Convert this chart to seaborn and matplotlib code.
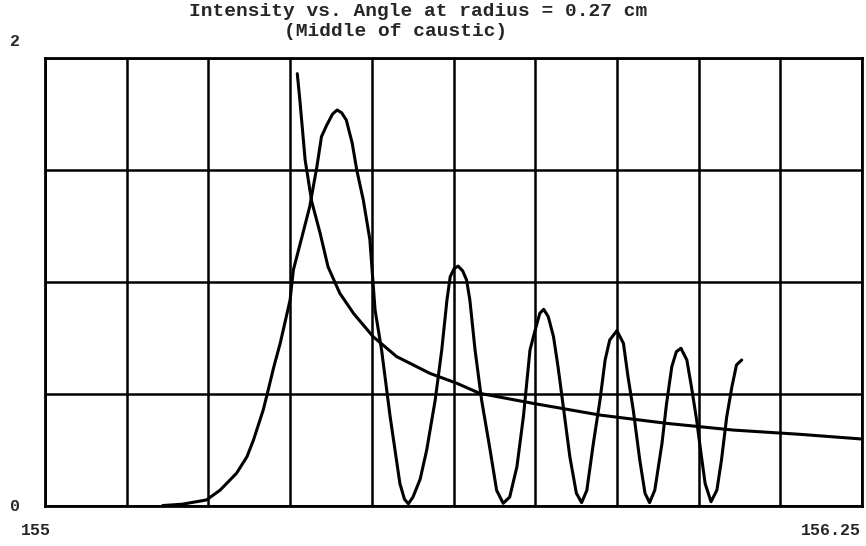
import matplotlib
matplotlib.use("Agg")
import numpy as np
import pandas as pd
import matplotlib.pyplot as plt
import seaborn as sns

# ---------------------------------------------------------------------------
# Data
# ---------------------------------------------------------------------------

# oscillating (Airy-like) intensity
wave_angle = [
    155.180, 155.210, 155.247, 155.268, 155.293, 155.309, 155.319, 155.334,
    155.340, 155.350, 155.360, 155.375, 155.380, 155.393, 155.405, 155.416,
    155.423, 155.431, 155.440, 155.447, 155.454, 155.461, 155.470, 155.477,
    155.487, 155.497, 155.505, 155.515, 155.528, 155.543, 155.550, 155.556,
    155.563, 155.574, 155.584, 155.597, 155.607, 155.615, 155.620, 155.626,
    155.632, 155.639, 155.645, 155.650, 155.658, 155.668, 155.681, 155.691,
    155.701, 155.711, 155.722, 155.732, 155.742, 155.750, 155.757, 155.763,
    155.770, 155.778, 155.785, 155.793, 155.803, 155.813, 155.821, 155.829,
    155.839, 155.849, 155.857, 155.864, 155.875, 155.885, 155.892, 155.900,
    155.910, 155.918, 155.925, 155.933, 155.944, 155.951, 155.959, 155.966,
    155.973, 155.982, 155.989, 155.997, 156.003, 156.010, 156.019, 156.028,
    156.035, 156.043, 156.051, 156.058, 156.066,
]
wave_intensity = [
    0.002, 0.008, 0.027, 0.071, 0.146, 0.220, 0.295, 0.430,
    0.500, 0.620, 0.728, 0.920, 1.054, 1.200, 1.336, 1.515,
    1.649, 1.700, 1.750, 1.768, 1.755, 1.723, 1.620, 1.500,
    1.366, 1.190, 0.875, 0.696, 0.400, 0.100, 0.030, 0.010,
    0.040, 0.120, 0.250, 0.473, 0.696, 0.920, 1.024, 1.060,
    1.071, 1.050, 1.009, 0.920, 0.696, 0.473, 0.250, 0.070,
    0.012, 0.040, 0.175, 0.400, 0.696, 0.786, 0.860, 0.878,
    0.845, 0.756, 0.620, 0.443, 0.220, 0.057, 0.015, 0.070,
    0.280, 0.470, 0.652, 0.741, 0.783, 0.726, 0.577, 0.429,
    0.205, 0.057, 0.015, 0.071, 0.280, 0.458, 0.622, 0.689,
    0.704, 0.652, 0.533, 0.384, 0.250, 0.100, 0.019, 0.071,
    0.205, 0.398, 0.533, 0.630, 0.652,
]

# geometric-optics (decaying) intensity
ray_angle = [
    155.386, 155.390, 155.398, 155.408, 155.421, 155.433, 155.451, 155.472,
    155.502, 155.538, 155.589, 155.630, 155.665, 155.747, 155.849, 155.951,
    156.053, 156.155, 156.250,
]
ray_intensity = [
    1.930, 1.810, 1.545, 1.360, 1.217, 1.068, 0.950, 0.860,
    0.756, 0.667, 0.592, 0.548, 0.503, 0.458, 0.406, 0.369,
    0.339, 0.320, 0.299,
]

x_grid = np.arange(155.0, 156.25 + 1e-9, 0.125)
y_grid = [0.0, 0.5, 1.0, 1.5, 2.0]

title_1 = "Intensity vs. Angle at radius = 0.27 cm"
title_2 = "(Middle of caustic)"

# ---------------------------------------------------------------------------
# Plot
# ---------------------------------------------------------------------------

sns.set_style("white")
plt.rcParams["font.family"] = ["Liberation Mono", "DejaVu Sans Mono"]

wave = pd.DataFrame({"angle": wave_angle, "intensity": wave_intensity})
ray = pd.DataFrame({"angle": ray_angle, "intensity": ray_intensity})

fig = plt.figure(figsize=(8.66, 5.46), dpi=100)
ax = fig.add_axes([45 / 866, 1 - 506 / 546, 817 / 866, 448 / 546])

sns.lineplot(data=wave, x="angle", y="intensity", sort=False, ax=ax,
             color="black", linewidth=2.2)
sns.lineplot(data=ray, x="angle", y="intensity", sort=False, ax=ax,
             color="black", linewidth=2.2)

ax.set_xlim(155.0, 156.25)
ax.set_ylim(0, 2)
ax.set_xticks(x_grid)
ax.set_yticks(y_grid)
ax.tick_params(length=0, labelbottom=False, labelleft=False)
ax.grid(True, color="black", linewidth=1.8)
ax.set_axisbelow(True)
for s in ax.spines.values():
    s.set_color("black")
    s.set_linewidth(2.0)
ax.set_xlabel("")
ax.set_ylabel("")

# end labels only, as in the original
lab = dict(transform=ax.transAxes, fontsize=12, fontweight="bold",
           ha="center", va="center")
ax.text(-0.037, 1.036, "2", **lab)
ax.text(-0.037, -0.002, "0", **lab)
ax.text(-0.011, -0.054, "155", **lab)
ax.text(0.962, -0.054, "156.25", **lab)

fig.text(418 / 866, 1 - 11 / 546, title_1, ha="center", va="center",
         fontsize=14, fontweight="bold")
fig.text(396 / 866, 1 - 31 / 546, title_2, ha="center", va="center",
         fontsize=14, fontweight="bold")

fig.savefig("out.png", dpi=100)
plt.close(fig)
